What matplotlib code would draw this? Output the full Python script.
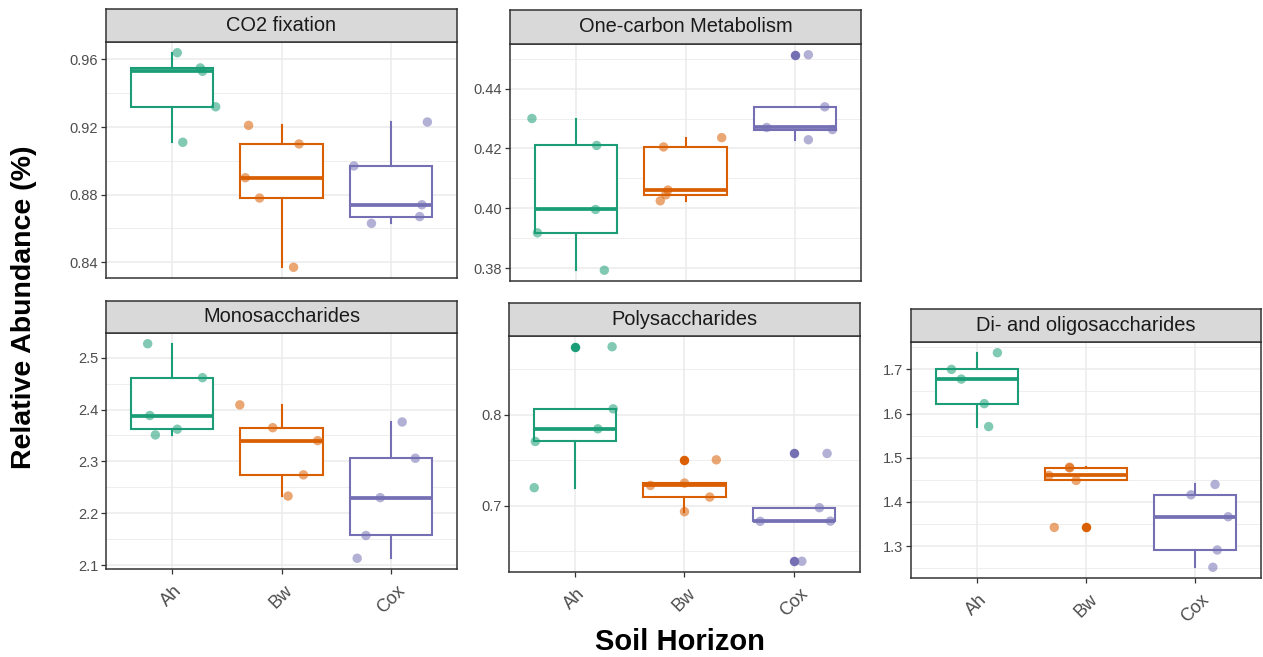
import matplotlib
matplotlib.use("Agg")
import matplotlib.pyplot as plt
import numpy as np
from matplotlib.ticker import MultipleLocator

plt.rcParams['font.family'] = ['Liberation Sans', 'DejaVu Sans']

horizons = ["Ah", "Bw", "Cox"]
colors = ["#1B9E77", "#D95F02", "#7570B3"]

# ---- data (Relative Abundance %) per horizon: Ah, Bw, Cox ----
co2_fixation = [[0.964, 0.955, 0.953, 0.932, 0.911],
                [0.921, 0.910, 0.890, 0.878, 0.837],
                [0.923, 0.897, 0.874, 0.867, 0.863]]
one_carbon = [[0.4300, 0.4210, 0.3996, 0.3918, 0.3793],
              [0.4205, 0.4236, 0.4061, 0.4045, 0.4025],
              [0.4513, 0.4339, 0.4270, 0.4263, 0.4229]]
monosaccharides = [[2.527, 2.4615, 2.3885, 2.362, 2.351],
                   [2.409, 2.365, 2.340, 2.274, 2.233],
                   [2.376, 2.306, 2.230, 2.157, 2.113]]
polysaccharides = [[0.8750, 0.8066, 0.7846, 0.7707, 0.7198],
                   [0.7505, 0.7223, 0.7249, 0.7095, 0.6934],
                   [0.7575, 0.6978, 0.6828, 0.6830, 0.6388]]
di_oligo = [[1.7377, 1.7000, 1.6780, 1.6224, 1.5705],
            [1.4786, 1.4770, 1.4598, 1.4485, 1.3423],
            [1.4395, 1.4160, 1.3664, 1.2911, 1.2520]]

# horizontal jitter offsets of the points
jit_co2 = [[0.05, 0.26, 0.28, 0.40, 0.10], [-0.30, 0.16, -0.33, -0.20, 0.11], [0.33, -0.34, 0.28, 0.26, -0.18]]
jit_one = [[-0.40, 0.19, 0.18, -0.35, 0.26], [-0.20, 0.33, -0.16, -0.18, -0.23], [0.12, 0.27, -0.26, 0.34, 0.12]]
jit_mono = [[-0.22, 0.28, -0.20, 0.05, -0.15], [-0.38, -0.08, 0.33, 0.20, 0.06], [0.10, 0.22, -0.10, -0.23, -0.31]]
jit_poly = [[0.34, 0.35, 0.21, -0.36, -0.37], [0.29, -0.31, 0.0, 0.23, 0.0], [0.30, 0.23, -0.31, 0.33, 0.07]]
jit_di = [[0.19, -0.23, -0.14, 0.07, 0.11], [-0.15, -0.15, -0.34, -0.09, -0.29], [0.18, -0.04, 0.30, 0.20, 0.16]]

W, H = 1263, 657
fig = plt.figure(figsize=(W / 100, H / 100), dpi=100)

def px_axes(x0, y0, x1, y1):
    return fig.add_axes([x0 / W, 1 - y1 / H, (x1 - x0) / W, (y1 - y0) / H])

panels = [
    # title, data, jitter, (x0, strip_top, strip_bottom, x1, plot_bottom), major, minor, fmt, xlabels
    ("CO2 fixation", co2_fixation, jit_co2, (106, 9, 42, 457, 278), 0.04, 0.02, "%.2f", False),
    ("One-carbon Metabolism", one_carbon, jit_one, (510, 10, 44, 861, 281), 0.02, 0.01, "%.2f", False),
    ("Monosaccharides", monosaccharides, jit_mono, (106, 301, 333, 457, 569), 0.1, 0.05, "%.1f", True),
    ("Polysaccharides", polysaccharides, jit_poly, (509, 303, 336, 860, 572), 0.1, 0.05, "%.1f", True),
    ("Di- and oligosaccharides", di_oligo, jit_di, (911, 309, 342, 1261, 578), 0.1, 0.05, "%.1f", True),
]

frame_col = "#333333"
for title, data, jit, (x0, st, sb, x1, pb), major, minor, fmt, showx in panels:
    ax = px_axes(x0, sb, x1, pb)
    sax = px_axes(x0, st, x1, sb)
    sax.set_facecolor("#D9D9D9")
    sax.set_xticks([]); sax.set_yticks([])
    for s in sax.spines.values():
        s.set_color(frame_col); s.set_linewidth(1.1)
    sax.text(0.5, 0.5, title, ha="center", va="center", fontsize=14.4, color="#1A1A1A",
             transform=sax.transAxes)

    allv = np.concatenate([np.array(g) for g in data])
    lo, hi = allv.min(), allv.max()
    pad = 0.05 * (hi - lo)
    ax.set_ylim(lo - pad, hi + pad)
    ax.set_xlim(0.4, 3.6)

    ax.yaxis.set_major_locator(MultipleLocator(major))
    ax.yaxis.set_minor_locator(MultipleLocator(minor))
    ax.yaxis.set_major_formatter(matplotlib.ticker.FormatStrFormatter(fmt))
    ax.set_axisbelow(True)
    ax.grid(True, which="major", color="#EBEBEB", lw=1.1)
    ax.grid(True, which="minor", axis="y", color="#EBEBEB", lw=0.6)
    ax.tick_params(axis="y", which="minor", length=0)
    ax.tick_params(axis="both", which="major", length=3.5, width=0.9, color=frame_col,
                   labelcolor="#4D4D4D")
    ax.tick_params(axis="y", labelsize=10.5, pad=2)
    for s in ax.spines.values():
        s.set_color(frame_col); s.set_linewidth(1.1)

    for i, (grp, jj, c) in enumerate(zip(data, jit, colors)):
        pos = i + 1
        ax.boxplot([grp], positions=[pos], widths=0.75, patch_artist=True, showcaps=False,
                   boxprops=dict(facecolor="white", edgecolor=c, linewidth=1.5),
                   whiskerprops=dict(color=c, linewidth=1.5),
                   medianprops=dict(color=c, linewidth=2.7),
                   flierprops=dict(marker="o", markerfacecolor=c, markeredgecolor="none",
                                   markersize=6.8),
                   zorder=2, manage_ticks=False)
        ax.scatter(pos + np.array(jj), grp, s=46, color=c, alpha=0.55, edgecolors="none", zorder=4)

    ax.set_xticks([1, 2, 3])
    if showx:
        ax.set_xticklabels(horizons, rotation=45, ha="center", va="top", fontsize=13)
        ax.tick_params(axis="x", pad=6)
    else:
        ax.set_xticklabels([])
        ax.tick_params(axis="x", length=0)

fig.text(24 / W, 1 - 307 / H, "Relative Abundance (%)", rotation=90, ha="center", va="center",
         fontsize=20.5, fontweight="bold", color="black")
fig.text(680 / W, 1 - 642 / H, "Soil Horizon", ha="center", va="center",
         fontsize=21, fontweight="bold", color="black")

fig.savefig("out.png", dpi=100)
